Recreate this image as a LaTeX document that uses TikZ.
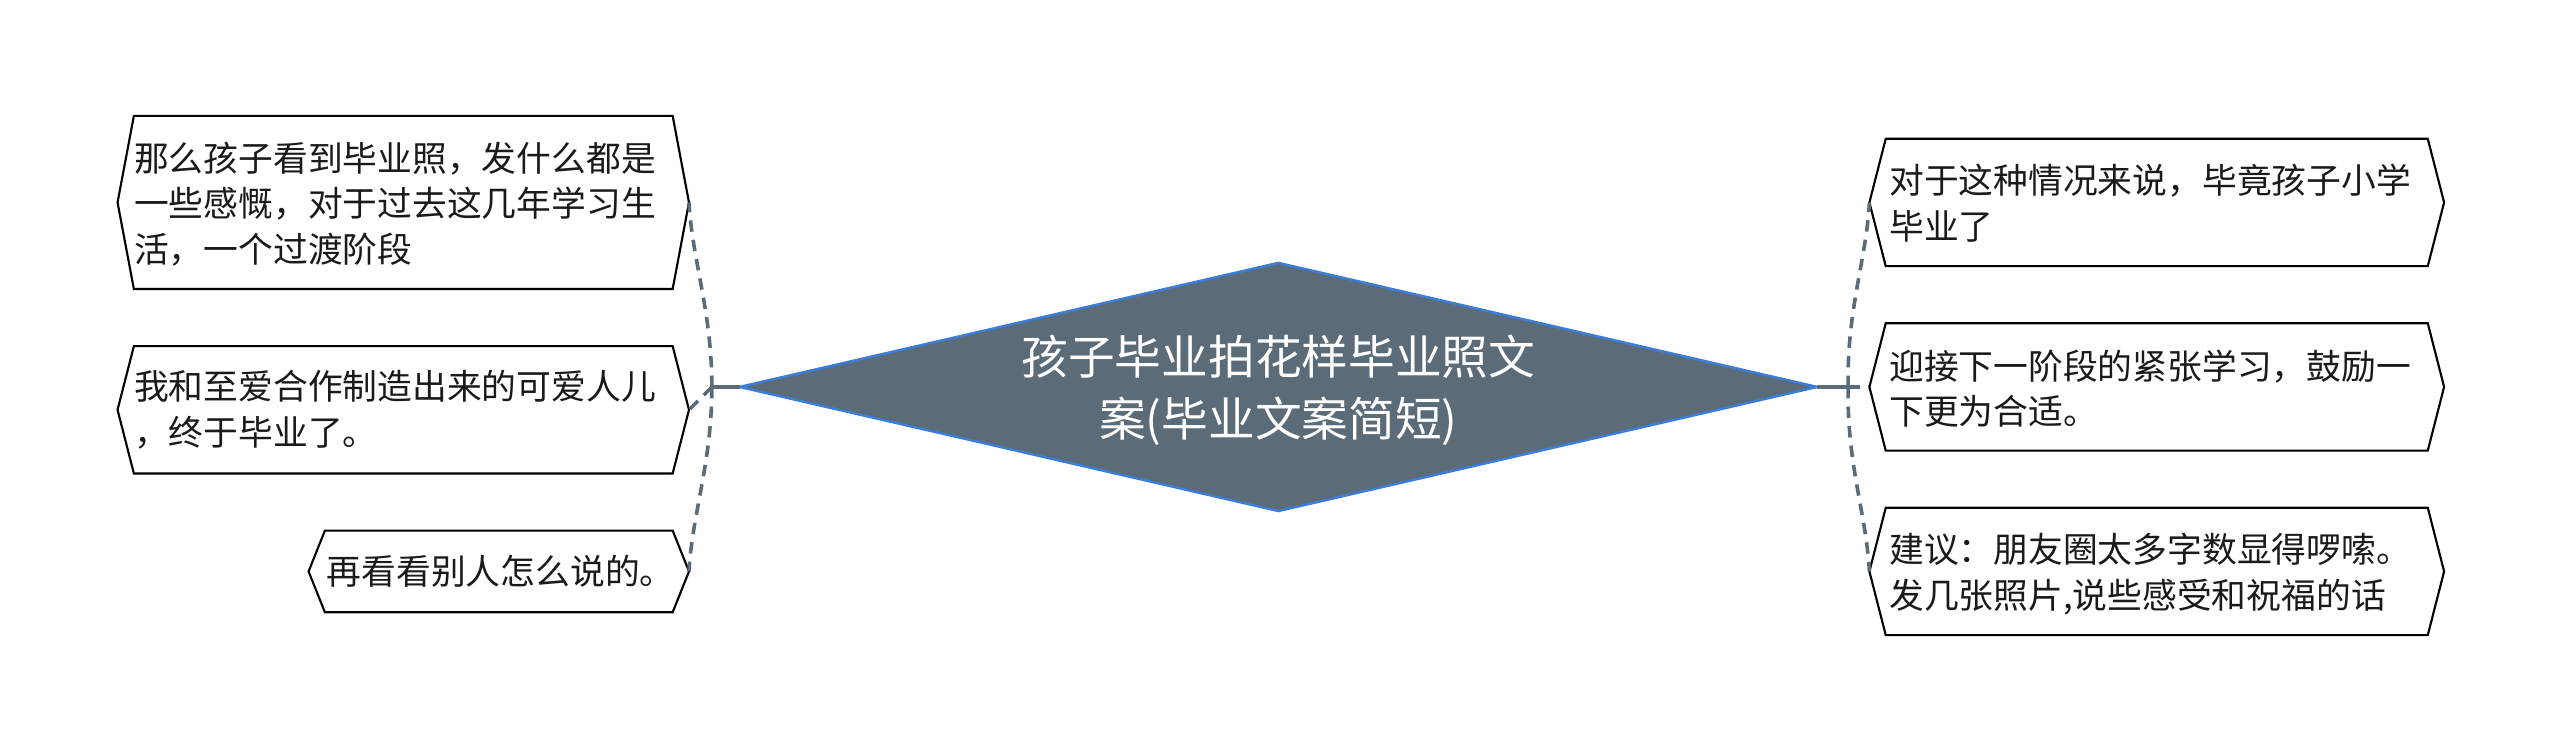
\documentclass[tikz,border=0pt]{standalone}
\usepackage{fontspec}
\setmainfont{Noto Sans CJK SC}
\definecolor{rootfill}{HTML}{5C6B78}
\definecolor{rootline}{HTML}{3C7DD9}
\definecolor{linkc}{HTML}{5C6B78}
\definecolor{txt}{HTML}{1A1A1A}
\newcommand\hexbox[5]{%
  \coordinate (#1-w) at (#2,{(#4+#5)/2});
  \coordinate (#1-e) at (#3,{(#4+#5)/2});
  \draw[boxline] (#1-w) -- (#2+10,#4) -- (#3-10,#4) -- (#1-e) -- (#3-10,#5) -- (#2+10,#5) -- cycle;}
\begin{document}
\begin{tikzpicture}[x=1pt,y=-1pt,
  boxline/.style={draw=black,line width=1.3pt,fill=white,line join=miter},
  bodytext/.style={inner sep=0pt,align=left,text=txt,font=\fontsize{21.3}{28}\selectfont},
  roottext/.style={inner sep=0pt,align=center,text=white,font=\fontsize{28.6}{38}\selectfont},
  dashlink/.style={draw=linkc,line width=2.2pt,dash pattern=on 7pt off 5pt},
  solidlink/.style={draw=linkc,line width=2.4pt}]
\useasboundingbox (0,0) rectangle (1568,460.6);
% central diamond
\coordinate (rw) at (453,237);
\coordinate (re) at (1113,237);
\coordinate (rn) at (783,161);
\coordinate (rs) at (783,313);
\draw[fill=rootfill,draw=rootline,line width=1.5pt] (rw) -- (rn) -- (re) -- (rs) -- cycle;
\node[roottext] (root) at (783,239) {孩子毕业拍花样毕业照文\\案(毕业文案简短)};
% hubs
\coordinate (lhub) at (436,237);
\coordinate (rhub) at (1132,237);
% connectors
\draw[solidlink] (rw) -- (lhub);
\draw[solidlink] (re) -- (rhub);
% left boxes
\hexbox{L1}{72}{422}{71}{177}
\hexbox{L2}{72}{422}{212}{290}
\hexbox{L3}{189}{422}{325}{375}
\node[bodytext,anchor=west] (t1) at (82,125) {那么孩子看到毕业照，发什么都是\\一些感慨，对于过去这几年学习生\\活，一个过渡阶段};
\node[bodytext,anchor=west] (t2) at (82,251) {我和至爱合作制造出来的可爱人儿\\，终于毕业了。};
\node[bodytext,anchor=west] (t3) at (200,350) {再看看别人怎么说的。};
% right boxes
\hexbox{R1}{1145}{1497}{85}{163}
\hexbox{R2}{1145}{1497}{198}{276}
\hexbox{R3}{1145}{1497}{311}{389}
\node[bodytext,anchor=west] (t4) at (1157,124.5) {对于这种情况来说，毕竟孩子小学\\毕业了};
\node[bodytext,anchor=west] (t5) at (1157,238) {迎接下一阶段的紧张学习，鼓励一\\下更为合适。};
\node[bodytext,anchor=west] (t6) at (1157,351.5) {建议：朋友圈太多字数显得啰嗦。\\发几张照片,说些感受和祝福的话};
% dashed links
\draw[dashlink] (lhub) .. controls (436,190) and (424,160) .. (L1-e);
\draw[dashlink] (lhub) -- (L2-e);
\draw[dashlink] (lhub) .. controls (436,284) and (424,314) .. (L3-e);
\draw[dashlink] (rhub) .. controls (1131,190) and (1143,160) .. (R1-w);
\draw[dashlink] (rhub) -- (R2-w);
\draw[dashlink] (rhub) .. controls (1131,284) and (1143,314) .. (R3-w);
\end{tikzpicture}
\end{document}
